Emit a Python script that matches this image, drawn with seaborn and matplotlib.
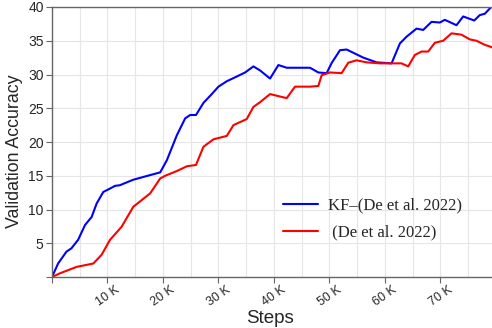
import pandas as pd
import matplotlib
matplotlib.use('Agg')
import matplotlib.pyplot as plt
import seaborn as sns
from matplotlib.ticker import MultipleLocator, FuncFormatter

# Curvas (passos em milhares)
kf_steps = [0, 1.1, 2.6, 3.5, 4.7, 5.95, 7.15, 8.05, 9.25, 10.45, 11.35, 12.25, 14.6,
            17.7, 19.5, 20.7, 22.5, 24.0, 24.9, 25.95, 27.3, 28.8, 30.0, 31.5, 33.3,
            34.8, 36.3, 37.5, 39.3, 40.8, 42.3, 46.5, 48.0, 49.5, 50.4, 51.9, 53.1,
            56.1, 58.5, 61.2, 62.7, 63.9, 65.7, 66.9, 68.4, 69.9, 70.8, 72.9, 74.1,
            76.1, 77.1, 78.0, 79.4]
kf_acc = [0, 2.0, 3.75, 4.25, 5.5, 7.7, 8.9, 10.9, 12.6, 13.1, 13.5, 13.6, 14.4,
          15.1, 15.5, 17.3, 21.0, 23.5, 24.0, 24.0, 25.8, 27.1, 28.2, 29.0, 29.7,
          30.3, 31.2, 30.6, 29.4, 31.4, 31.0, 31.0, 30.3, 30.2, 31.7, 33.6, 33.7,
          32.5, 31.8, 31.65, 34.6, 35.6, 36.8, 36.6, 37.8, 37.7, 38.1, 37.3, 38.6,
          38.0, 38.8, 39.0, 40.2]

de_steps = [0, 1.44, 4.45, 7.45, 8.95, 10.45, 12.55, 14.65, 17.7, 19.5, 20.4, 22.5,
            24.3, 25.95, 27.3, 29.1, 31.5, 32.7, 35.1, 36.3, 37.5, 39.3, 42.3, 43.8,
            46.5, 48.0, 48.6, 50.1, 52.2, 53.4, 54.9, 56.7, 59.1, 63.0, 64.2, 65.4,
            66.6, 67.8, 69.0, 70.5, 72.0, 73.8, 75.3, 76.5, 78.0, 79.4]
de_acc = [0, 0.55, 1.5, 2.0, 3.3, 5.5, 7.45, 10.4, 12.4, 14.6, 15.0, 15.7,
          16.4, 16.6, 19.3, 20.4, 20.9, 22.5, 23.4, 25.2, 25.9, 27.1, 26.5, 28.2,
          28.2, 28.3, 29.9, 30.3, 30.2, 31.75, 32.1, 31.8, 31.65, 31.65, 31.2, 32.9,
          33.4, 33.4, 34.7, 35.0, 36.1, 35.9, 35.2, 35.0, 34.4, 34.0]

labels = ['KF\u2013(De et al. 2022)', ' (De et al. 2022)']

df = pd.concat([
    pd.DataFrame({'steps': kf_steps, 'acc': kf_acc, 'metodo': labels[0]}),
    pd.DataFrame({'steps': de_steps, 'acc': de_acc, 'metodo': labels[1]}),
])

sns.set_style('white')
plt.rcParams['font.family'] = ['Liberation Sans', 'DejaVu Sans']

fig = plt.figure(figsize=(4.92, 3.28), dpi=100)
ax = fig.add_axes([52/492, 51/328, 440/492, 270/328])

sns.lineplot(data=df, x='steps', y='acc', hue='metodo', sort=False,
             palette={labels[0]: '#0000ff', labels[1]: '#ff0000'},
             linewidth=1.5, ax=ax)

ax.set_xlim(0, 79.3)
ax.set_ylim(0, 40)
ax.xaxis.set_major_locator(MultipleLocator(10))
ax.xaxis.set_minor_locator(MultipleLocator(5))
ax.yaxis.set_major_locator(MultipleLocator(5))
ax.xaxis.set_major_formatter(FuncFormatter(lambda v, p: '' if v == 0 else f'{int(v)} K'))
ax.yaxis.set_major_formatter(FuncFormatter(lambda v, p: '' if v == 0 else f'{int(v)}'))
ax.grid(True, which='both', color='#e6e6e6', linewidth=0.8)
ax.set_axisbelow(True)

for s in ['left', 'bottom', 'top']:
    ax.spines[s].set_color('#666666')
    ax.spines[s].set_linewidth(1.0)
ax.spines['right'].set_visible(False)

ax.tick_params(axis='x', which='major', bottom=True, length=4, width=0.8,
               color='#666666', labelsize=9, labelrotation=35, pad=1)
ax.tick_params(axis='x', which='minor', bottom=False)
ax.tick_params(axis='y', left=True, length=4, width=0.8, color='#666666', labelsize=10, pad=2)
for t in ax.get_xticklabels():
    t.set_ha('center')

ax.set_xlabel('Steps', fontsize=13.5)
ax.xaxis.set_label_coords(0.495, -0.122)
ax.set_ylabel('Validation Accuracy', fontsize=12.8)
ax.yaxis.set_label_coords(-0.066, 0.465)

leg = ax.legend(loc='center left', bbox_to_anchor=(0.49, 0.215), frameon=False,
                prop={'family': 'Liberation Serif', 'size': 12},
                handlelength=2.1, handletextpad=0.65, labelspacing=0.65)

plt.savefig('out.png', dpi=100)
